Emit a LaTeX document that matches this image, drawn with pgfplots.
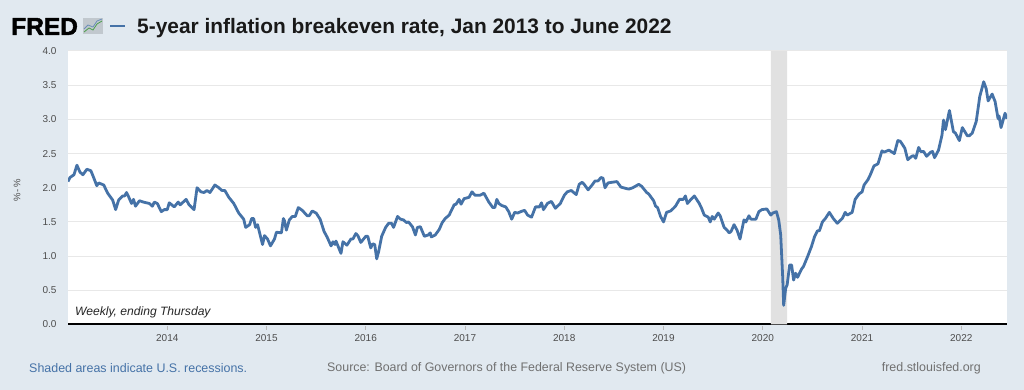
\documentclass[border=0pt]{standalone}
\usepackage{fontspec}
\setmainfont{Liberation Sans}
\usepackage{pgfplots}
\pgfplotsset{compat=1.18}
\definecolor{bgc}{HTML}{E1E9F0}
\definecolor{linec}{HTML}{4572A7}
\definecolor{tickc}{HTML}{4D4D4D}
\definecolor{gridc}{HTML}{E8E8E8}
\definecolor{shadec}{HTML}{E1E1E1}
\definecolor{footc}{HTML}{707070}
\pgfplotstableread{
x y
2013.00 2.09
2013.02 2.15
2013.06 2.19
2013.09 2.33
2013.12 2.23
2013.15 2.19
2013.19 2.27
2013.23 2.25
2013.25 2.18
2013.29 2.03
2013.31 2.07
2013.36 2.04
2013.40 1.92
2013.45 1.82
2013.48 1.68
2013.51 1.82
2013.55 1.88
2013.57 1.88
2013.59 1.93
2013.61 1.87
2013.64 1.77
2013.66 1.83
2013.68 1.73
2013.72 1.81
2013.76 1.79
2013.82 1.77
2013.85 1.73
2013.87 1.79
2013.90 1.77
2013.94 1.65
2013.97 1.68
2014.00 1.68
2014.02 1.78
2014.07 1.72
2014.11 1.79
2014.13 1.75
2014.19 1.83
2014.22 1.75
2014.27 1.68
2014.30 2.00
2014.34 1.94
2014.37 1.93
2014.40 1.96
2014.43 1.93
2014.48 2.04
2014.52 2.00
2014.55 1.96
2014.58 1.96
2014.62 1.86
2014.67 1.77
2014.72 1.63
2014.77 1.54
2014.79 1.42
2014.83 1.46
2014.85 1.55
2014.87 1.55
2014.89 1.42
2014.91 1.46
2014.96 1.17
2014.98 1.30
2015.01 1.25
2015.04 1.15
2015.08 1.25
2015.10 1.35
2015.15 1.34
2015.17 1.55
2015.18 1.52
2015.20 1.38
2015.23 1.53
2015.26 1.58
2015.29 1.58
2015.32 1.71
2015.36 1.67
2015.41 1.59
2015.43 1.59
2015.46 1.66
2015.50 1.63
2015.54 1.54
2015.58 1.36
2015.61 1.28
2015.65 1.15
2015.67 1.21
2015.69 1.17
2015.70 1.22
2015.75 1.04
2015.77 1.21
2015.81 1.16
2015.85 1.25
2015.87 1.25
2015.90 1.33
2015.92 1.30
2015.95 1.20
2016.00 1.29
2016.02 1.29
2016.05 1.12
2016.07 1.18
2016.09 1.17
2016.11 0.96
2016.13 1.07
2016.16 1.29
2016.20 1.42
2016.23 1.48
2016.26 1.48
2016.28 1.42
2016.32 1.58
2016.35 1.54
2016.38 1.53
2016.41 1.49
2016.43 1.50
2016.47 1.43
2016.50 1.31
2016.52 1.42
2016.55 1.43
2016.57 1.36
2016.59 1.29
2016.63 1.31
2016.65 1.34
2016.66 1.28
2016.70 1.31
2016.74 1.39
2016.77 1.49
2016.80 1.55
2016.84 1.60
2016.89 1.75
2016.91 1.76
2016.94 1.83
2016.96 1.76
2016.99 1.84
2017.04 1.86
2017.07 1.94
2017.10 1.89
2017.15 1.89
2017.19 1.92
2017.24 1.79
2017.28 1.71
2017.30 1.71
2017.32 1.83
2017.34 1.77
2017.37 1.74
2017.41 1.72
2017.44 1.65
2017.47 1.54
2017.50 1.64
2017.53 1.63
2017.56 1.65
2017.60 1.67
2017.63 1.60
2017.67 1.57
2017.71 1.72
2017.75 1.72
2017.77 1.78
2017.79 1.68
2017.83 1.77
2017.87 1.80
2017.91 1.70
2017.96 1.77
2018.00 1.89
2018.03 1.94
2018.07 1.96
2018.12 1.90
2018.15 2.05
2018.18 2.08
2018.20 2.05
2018.24 1.97
2018.28 2.04
2018.31 2.10
2018.34 2.10
2018.37 2.15
2018.39 2.14
2018.41 2.00
2018.44 2.07
2018.48 2.08
2018.53 2.09
2018.57 2.01
2018.62 1.99
2018.65 1.98
2018.69 2.00
2018.75 2.05
2018.78 2.02
2018.83 1.93
2018.85 1.91
2018.90 1.81
2018.92 1.73
2018.94 1.71
2018.97 1.58
2019.00 1.50
2019.03 1.64
2019.07 1.66
2019.10 1.70
2019.12 1.73
2019.16 1.83
2019.20 1.83
2019.22 1.88
2019.24 1.77
2019.27 1.82
2019.31 1.88
2019.36 1.77
2019.38 1.71
2019.41 1.60
2019.45 1.57
2019.47 1.50
2019.49 1.58
2019.51 1.54
2019.55 1.63
2019.57 1.59
2019.61 1.42
2019.64 1.38
2019.66 1.34
2019.68 1.36
2019.71 1.46
2019.74 1.38
2019.77 1.25
2019.81 1.53
2019.83 1.50
2019.86 1.59
2019.88 1.54
2019.93 1.54
2019.96 1.65
2019.99 1.68
2020.04 1.69
2020.08 1.60
2020.10 1.63
2020.137 1.65
2020.16 1.53
2020.18 1.31
2020.20 0.70
2020.21 0.28
2020.23 0.53
2020.245 0.58
2020.27 0.87
2020.29 0.87
2020.31 0.65
2020.33 0.75
2020.35 0.69
2020.39 0.81
2020.41 0.85
2020.45 0.99
2020.49 1.14
2020.52 1.28
2020.55 1.37
2020.57 1.37
2020.60 1.50
2020.63 1.55
2020.67 1.64
2020.71 1.55
2020.75 1.48
2020.80 1.55
2020.83 1.64
2020.85 1.60
2020.90 1.64
2020.93 1.83
2020.97 1.91
2021.00 1.94
2021.02 2.04
2021.06 2.12
2021.08 2.18
2021.12 2.32
2021.16 2.35
2021.20 2.54
2021.22 2.52
2021.27 2.55
2021.325 2.50
2021.36 2.69
2021.385 2.68
2021.43 2.58
2021.46 2.41
2021.50 2.46
2021.52 2.47
2021.54 2.43
2021.57 2.59
2021.59 2.53
2021.62 2.53
2021.65 2.46
2021.69 2.52
2021.71 2.53
2021.73 2.44
2021.77 2.55
2021.805 2.77
2021.82 2.99
2021.84 2.85
2021.88 3.13
2021.92 2.82
2021.94 2.80
2021.98 2.69
2022.01 2.88
2022.06 2.76
2022.08 2.76
2022.11 2.80
2022.15 2.97
2022.185 3.33
2022.225 3.55
2022.25 3.45
2022.27 3.27
2022.31 3.37
2022.34 3.26
2022.37 3.01
2022.38 3.05
2022.40 2.88
2022.44 3.09
2022.46 3.01
}\breakeven
\begin{document}
\begin{tikzpicture}[x=1pt,y=1pt]
\path[fill=bgc] (0,0) rectangle (1024,390);
% header
\node[anchor=west,inner sep=0pt] at (11,363.5) {\fontsize{24.5}{24.5}\selectfont\bfseries\addfontfeatures{FakeBold=2}FRED};
\path[fill=black!14!bgc] (83,356) rectangle (103,372);
\draw[line width=0.8pt,color=green!45!black!70] (84,358) -- (89,362) -- (93,360) -- (97,366) -- (102,369);
\draw[line width=0.8pt,color=linec!80] (84,361) -- (88,365) -- (93,363) -- (97,369) -- (102,371);
\draw[line width=2.2pt,color=linec] (110,364) -- (125,364);
\node[anchor=west,inner sep=0pt,text=black!90] at (137,361.5) {\fontsize{20.9}{22}\selectfont\bfseries 5-year inflation breakeven rate, Jan 2013 to June 2022};
\begin{axis}[
  at={(68pt,65.5pt)},anchor=south west,
  scale only axis,width=939pt,height=273.5pt,
  xmin=2013.0,xmax=2022.46,ymin=0,ymax=4,
  axis background/.style={fill=white},
  axis y line*=left,axis x line*=bottom,
  y axis line style={draw=none},
  x axis line style={draw=black,line width=2pt,-},
  xtick={2014,...,2022},
  ytick={0,0.5,1,1.5,2,2.5,3,3.5,4},
  xticklabel style={/pgf/number format/.cd,fixed,precision=0,1000 sep={},assume math mode=true},
  yticklabel style={/pgf/number format/.cd,fixed,fixed zerofill,precision=1,assume math mode=true},
  tick label style={font=\fontsize{10}{11}\selectfont,text=tickc},
  ymajorgrids,
  grid style={gridc,line width=1pt},
  tick align=outside,
  major tick length=0pt,
  xtick style={draw=none},
  ytick style={draw=none},
  xticklabel shift=6pt,
  yticklabel shift=8pt,
  clip=true,
]
\addplot[draw=none,fill=shadec] coordinates {(2020.08,0) (2020.08,4) (2020.245,4) (2020.245,0)} \closedcycle;
\addplot[color=linec,line width=2.8pt,line join=round] table[x=x,y=y] {\breakeven};
\node[anchor=west,inner sep=0pt] at (axis cs:2013.07,0.18) {\fontsize{12.1}{13}\selectfont\itshape\textcolor{black!85}{Weekly, ending Thursday}};
\end{axis}
\foreach \xx in {167,266,365,465,564,663,762,862,961}{\draw[color=gridc!80!black,line width=0.5pt] (\xx,64) -- (\xx,60);}
\node[rotate=90,text=tickc,inner sep=0pt] at (17,200) {\fontsize{9.5}{10}\selectfont\%- \%};
% footer
\node[anchor=west,inner sep=0pt,text=linec] at (29,21.5) {\fontsize{12.45}{14}\selectfont Shaded areas indicate U.S. recessions.};
\node[anchor=west,inner sep=0pt,text=footc] at (327,21.5) {\fontsize{12.4}{14}\selectfont Source: Board of Governors of the Federal Reserve System (US)};
\node[anchor=east,inner sep=0pt,text=footc] at (981,21.5) {\fontsize{12.45}{14}\selectfont fred.stlouisfed.org};
\end{tikzpicture}
\end{document}
